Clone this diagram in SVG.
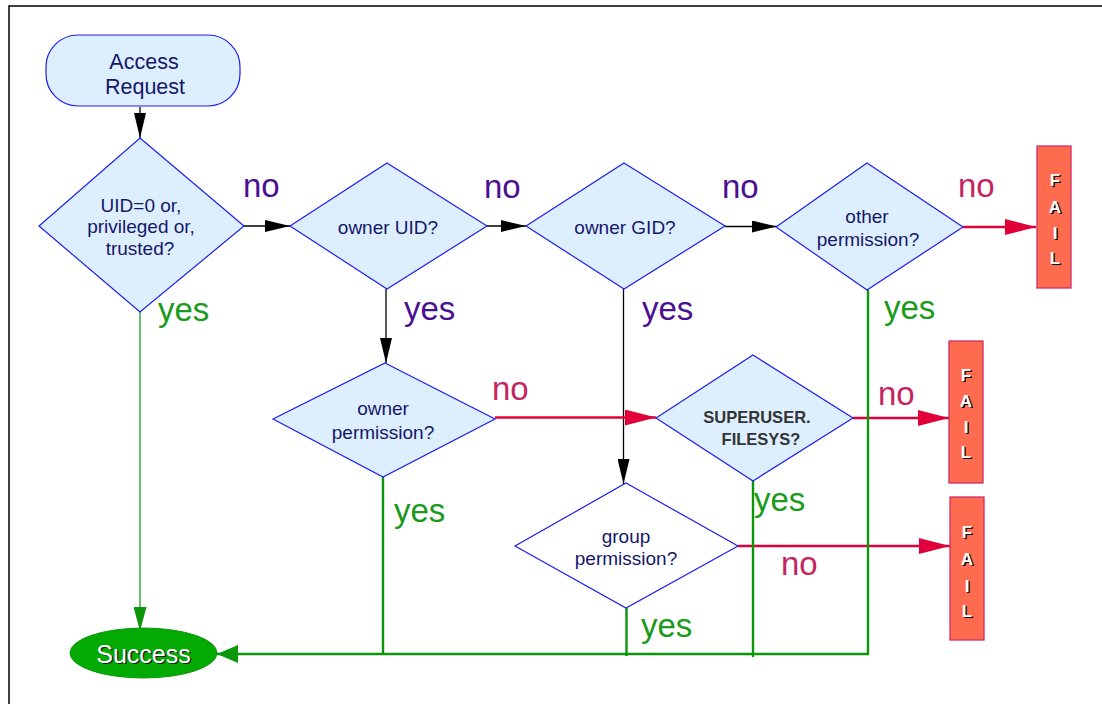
<svg xmlns="http://www.w3.org/2000/svg" width="1102" height="704" viewBox="0 0 1102 704">
  <style>
    .decision { fill: #ddeffe; stroke: #1e1ef0; stroke-width: 1.2; }
    .decision-plain { fill: #ffffff; stroke: #1e1ef0; stroke-width: 1.2; }
    .node-text { font-family: "Liberation Sans", Arial, sans-serif; font-size: 19px; fill: #16166a; text-anchor: middle; }
    .bold-text { font-family: "Liberation Sans", Arial, sans-serif; font-size: 16.5px; font-weight: bold; fill: #333333; text-anchor: middle; }
    .label { font-family: "Liberation Sans", Arial, sans-serif; font-size: 33px; }
    .purple { fill: #4a1090; }
    .pink { fill: #c2255f; }
    .green { fill: #1a9a1a; }
    .flow-black { stroke: #000000; stroke-width: 1.3; fill: none; }
    .flow-red { stroke: #e0003a; stroke-width: 2.5; fill: none; }
    .flow-green { stroke: #0b960b; stroke-width: 2.4; fill: none; }
    .flow-green-thin { stroke: #1f9a1f; stroke-width: 1.3; fill: none; }
    .fail-box { fill: #ff6b4e; stroke: #cc2e6a; stroke-width: 1.3; }
    .fail-letter { font-family: "Liberation Sans", Arial, sans-serif; font-size: 17px; font-weight: bold; text-anchor: middle; }
  </style>
  <defs>
    <marker id="arrow-black" markerUnits="userSpaceOnUse" markerWidth="25" markerHeight="12" refX="25" refY="6" orient="auto">
      <path d="M0,0 L25,6 L0,12 z" fill="#000000"/>
    </marker>
    <marker id="arrow-red" markerUnits="userSpaceOnUse" markerWidth="31" markerHeight="16" refX="31" refY="8" orient="auto">
      <path d="M0,0 L31,8 L0,16 z" fill="#e0003a"/>
    </marker>
    <marker id="arrow-green" markerUnits="userSpaceOnUse" markerWidth="24" markerHeight="13" refX="24" refY="6.5" orient="auto">
      <path d="M0,0 L24,6.5 L0,13 z" fill="#0b960b"/>
    </marker>
    <marker id="arrow-green-wide" markerUnits="userSpaceOnUse" markerWidth="21" markerHeight="18" refX="21" refY="9" orient="auto">
      <path d="M0,0 L21,9 L0,18 z" fill="#0b960b"/>
    </marker>
  </defs>

  <rect width="1102" height="704" fill="#ffffff"/>
  <!-- page frame -->
  <path d="M9,704 L9,6 L1102,6" fill="none" stroke="#000000" stroke-width="1.5"/>

  <!-- connectors -->
  <g id="connectors">
    <line class="flow-black" x1="140" y1="107" x2="140" y2="138" marker-end="url(#arrow-black)"/>
    <line class="flow-black" x1="244" y1="226" x2="290" y2="226" marker-end="url(#arrow-black)"/>
    <line class="flow-black" x1="487" y1="226" x2="526" y2="226" marker-end="url(#arrow-black)"/>
    <line class="flow-black" x1="725" y1="226.5" x2="777" y2="226.5" marker-end="url(#arrow-black)"/>
    <line class="flow-black" x1="386" y1="289" x2="386" y2="363" marker-end="url(#arrow-black)"/>
    <line class="flow-black" x1="623.5" y1="289" x2="623.5" y2="484" marker-end="url(#arrow-black)"/>

    <line class="flow-red" x1="963" y1="227" x2="1036" y2="227" marker-end="url(#arrow-red)"/>
    <line class="flow-red" x1="495" y1="417.5" x2="656" y2="417.5" marker-end="url(#arrow-red)"/>
    <line class="flow-red" x1="853" y1="418" x2="949" y2="418" marker-end="url(#arrow-red)"/>
    <line class="flow-red" x1="738" y1="546" x2="950" y2="546" marker-end="url(#arrow-red)"/>

    <line class="flow-green-thin" x1="140" y1="312" x2="140" y2="631" marker-end="url(#arrow-green)"/>
    <line class="flow-green" x1="383" y1="477" x2="383" y2="655"/>
    <line class="flow-green" x1="626.5" y1="608" x2="626.5" y2="656"/>
    <line class="flow-green" x1="753" y1="481" x2="753" y2="657"/>
    <polyline class="flow-green" points="868,290 868,654 217,654" marker-end="url(#arrow-green-wide)"/>
  </g>

  <!-- edge labels -->
  <g id="edge-labels" class="label">
    <text class="purple" x="243" y="197">no</text>
    <text class="purple" x="484" y="198">no</text>
    <text class="purple" x="722" y="198">no</text>
    <text class="pink" x="958" y="197">no</text>
    <text class="green" x="158" y="321">yes</text>
    <text class="purple" x="404" y="320">yes</text>
    <text class="purple" x="642" y="320">yes</text>
    <text class="green" x="884" y="319">yes</text>
    <text class="pink" x="492" y="400">no</text>
    <text class="pink" x="878" y="405">no</text>
    <text class="green" x="394" y="522">yes</text>
    <text class="green" x="754" y="511">yes</text>
    <text class="pink" x="781" y="575">no</text>
    <text class="green" x="641" y="637">yes</text>
  </g>

  <g id="access-request">
    <rect x="46" y="35" width="194" height="71" rx="32" ry="32" class="decision"/>
    <text class="node-text" x="144" y="69" style="font-size:21.5px">Access</text>
    <text class="node-text" x="145" y="94" style="font-size:21.5px">Request</text>
  </g>

  <g id="privileged-check">
    <polygon class="decision" points="140,138 244,226 140,312 39,226"/>
    <text class="node-text" x="141" y="212">UID=0 or,</text>
    <text class="node-text" x="141" y="233">privileged or,</text>
    <text class="node-text" x="140" y="255">trusted?</text>
  </g>

  <g id="owner-uid">
    <polygon class="decision" points="387,163 487,226 387,289 290,226"/>
    <text class="node-text" x="388" y="234">owner UID?</text>
  </g>

  <g id="owner-gid">
    <polygon class="decision" points="624,163 725,226 624,289 526,226"/>
    <text class="node-text" x="625" y="234">owner GID?</text>
  </g>

  <g id="other-permission">
    <polygon class="decision" points="867,163 963,227 867,290 776,227"/>
    <text class="node-text" x="867" y="223">other</text>
    <text class="node-text" x="868" y="246">permission?</text>
  </g>

  <g id="owner-permission">
    <polygon class="decision" points="385,363 495,419 383,477 273,419"/>
    <text class="node-text" x="383" y="415">owner</text>
    <text class="node-text" x="383" y="439">permission?</text>
  </g>

  <g id="superuser-filesys">
    <polygon class="decision" points="753,355 853,418 753,481 656,418"/>
    <text class="bold-text" x="757" y="423">SUPERUSER.</text>
    <text class="bold-text" x="761" y="445">FILESYS?</text>
  </g>

  <g id="group-permission">
    <polygon class="decision-plain" points="626,483 738,546 626,608 515,546"/>
    <text class="node-text" x="626" y="543">group</text>
    <text class="node-text" x="626" y="565">permission?</text>
  </g>

  <g id="fail-other">
    <rect class="fail-box" x="1037" y="146" width="34" height="142"/>
    <g class="fail-letter" fill="#000000" transform="translate(1.3,1.3)">
      <text x="1055" y="186">F</text><text x="1055" y="213">A</text><text x="1055" y="239">I</text><text x="1055" y="264">L</text>
    </g>
    <g class="fail-letter" fill="#ffffff">
      <text x="1055" y="186">F</text><text x="1055" y="213">A</text><text x="1055" y="239">I</text><text x="1055" y="264">L</text>
    </g>
  </g>

  <g id="fail-superuser">
    <rect class="fail-box" x="949" y="341" width="34" height="142"/>
    <g class="fail-letter" fill="#000000" transform="translate(1.3,1.3)">
      <text x="966" y="381">F</text><text x="966" y="407">A</text><text x="966" y="433">I</text><text x="966" y="458">L</text>
    </g>
    <g class="fail-letter" fill="#ffffff">
      <text x="966" y="381">F</text><text x="966" y="407">A</text><text x="966" y="433">I</text><text x="966" y="458">L</text>
    </g>
  </g>

  <g id="fail-group">
    <rect class="fail-box" x="950" y="497" width="34" height="143"/>
    <g class="fail-letter" fill="#000000" transform="translate(1.3,1.3)">
      <text x="967" y="538">F</text><text x="967" y="565">A</text><text x="967" y="592">I</text><text x="967" y="617">L</text>
    </g>
    <g class="fail-letter" fill="#ffffff">
      <text x="967" y="538">F</text><text x="967" y="565">A</text><text x="967" y="592">I</text><text x="967" y="617">L</text>
    </g>
  </g>

  <g id="success">
    <ellipse cx="143.5" cy="653" rx="73.5" ry="25" fill="#02aa02" stroke="#0b960b" stroke-width="1"/>
    <text x="145" y="664" font-family="Liberation Sans, Arial, sans-serif" font-size="25" text-anchor="middle" fill="#222222">Success</text>
    <text x="143.5" y="662.5" font-family="Liberation Sans, Arial, sans-serif" font-size="25" text-anchor="middle" fill="#ffffff">Success</text>
  </g>
</svg>
